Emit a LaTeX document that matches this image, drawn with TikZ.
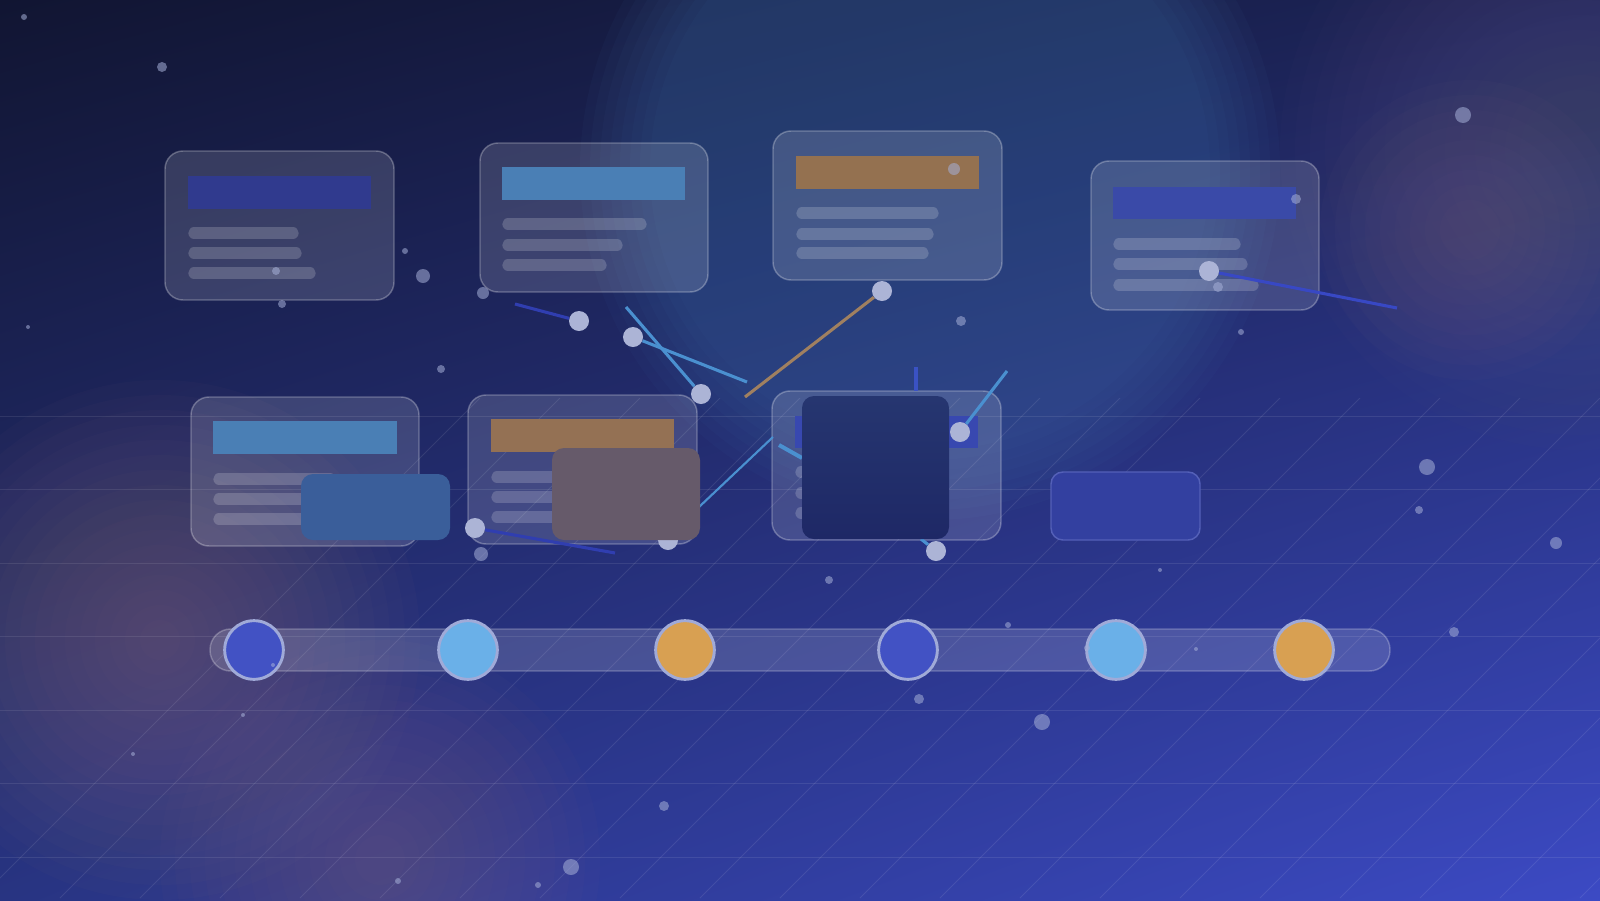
\documentclass[tikz,border=0pt]{standalone}
\usetikzlibrary{shadings}
\definecolor{bgtl}{RGB}{17,21,50}
\definecolor{bgtr}{RGB}{28,36,88}
\definecolor{bgbl}{RGB}{40,52,130}
\definecolor{bgbr}{RGB}{60,74,196}
\definecolor{coverdarktop}{RGB}{38,54,112}
\definecolor{coverdarkbot}{RGB}{30,40,102}

\begin{document}
\begin{tikzpicture}[x=0.75pt,y=0.75pt,yscale=-1,xscale=1,
  card/.style={draw={rgb, 255:red, 255; green, 255; blue, 255}, draw opacity=0.28, fill=white, fill opacity=0.14, line width=1.1pt, rounded corners=13.5pt},
  textline/.style={draw=white, draw opacity=0.18, line width=8.5pt, line cap=round},
  cover/.style={draw=none, rounded corners=9pt},
  wire/.style={line width=2.3pt},
  pin/.style={circle, fill={rgb, 255:red, 172; green, 180; blue, 214}, inner sep=0pt, minimum size=15pt},
  stop/.style={circle, draw={rgb, 255:red, 160; green, 170; blue, 216}, line width=2.2pt, inner sep=0pt, minimum size=44pt},
  speck/.style={fill={rgb, 255:red, 165; green, 175; blue, 215}, fill opacity=0.55},
  gridline/.style={draw=white, draw opacity=0.09, line width=0.75pt}
]
\useasboundingbox (0,0) rectangle (1600,900);
\begin{scope}
\clip (0,0) rectangle (1600,900);
%Shape: Background
\shade [upper left=bgtl, upper right=bgtr, lower left=bgbl, lower right=bgbr] (0,0) rectangle (1600,900);
%Shape: Glows
\foreach \r in {350,340,...,280} \fill [fill={rgb, 255:red, 72; green, 122; blue, 182}, opacity=0.048] (930,170) circle (\r);
\foreach \r in {300,285,...,60} \fill [fill={rgb, 255:red, 96; green, 90; blue, 130}, opacity=0.035] (1580,150) circle (\r);
\foreach \r in {150,135,...,30} \fill [fill={rgb, 255:red, 140; green, 110; blue, 140}, opacity=0.035] (1470,230) circle (\r);
\foreach \r in {260,245,...,20} \fill [fill={rgb, 255:red, 140; green, 108; blue, 125}, opacity=0.04] (160,640) circle (\r);
\foreach \r in {220,205,...,20} \fill [fill={rgb, 255:red, 140; green, 108; blue, 130}, opacity=0.035] (380,860) circle (\r);
%Straight Lines: floor grid
\begin{scope}
\clip (0,398) rectangle (1600,900);
\foreach \i in {-8,...,14} \draw [gridline] (1120+\i*80,398) -- (620+\i*80,898);
\foreach \y in {416,489.5,...,860} \draw [gridline] (0,\y) -- (1600,\y);
\end{scope}
\end{scope}

%Shape: Cards, top row
\draw [card] (165,151) rectangle (394,300);
\fill [fill={rgb, 255:red, 48; green, 58; blue, 142}] (188,176) rectangle (371,209);
\draw [textline] (194,233) -- (293,233) (194,253) -- (296,253) (194,273) -- (310,273);
\draw [card] (480,143) rectangle (708,292);
\fill [fill={rgb, 255:red, 74; green, 127; blue, 181}] (502,167) rectangle (685,200);
\draw [textline] (508,224) -- (641,224) (508,245) -- (617,245) (508,265) -- (601,265);
\draw [card] (773,131) rectangle (1002,280);
\fill [fill={rgb, 255:red, 148; green, 113; blue, 80}] (796,156) rectangle (979,189);
\draw [textline] (802,213) -- (933,213) (802,234) -- (928,234) (802,253) -- (923,253);
\draw [card] (1091,161) rectangle (1319,310);
\fill [fill={rgb, 255:red, 58; green, 74; blue, 168}] (1113,187) rectangle (1296,219);
\draw [textline] (1119,244) -- (1235,244) (1119,264) -- (1242,264) (1119,285) -- (1253,285);
%Shape: Cards, bottom row
\draw [card] (191,397) rectangle (419,546);
\fill [fill={rgb, 255:red, 74; green, 127; blue, 181}] (213,421) rectangle (397,454);
\draw [textline] (219,479) -- (330,479) (219,499) -- (330,499) (219,519) -- (330,519);
\draw [card] (468,395) rectangle (697,544);
\fill [fill={rgb, 255:red, 148; green, 113; blue, 84}] (491,419) rectangle (674,452);
\draw [textline] (497,477) -- (600,477) (497,497) -- (600,497) (497,517) -- (600,517);
\draw [card] (772,391) rectangle (1001,540);
\fill [fill={rgb, 255:red, 56; green, 72; blue, 176}] (795,416) rectangle (978,448);
\draw [textline] (801,472) -- (900,472) (801,493) -- (900,493) (801,513) -- (900,513);

%Shape: Pins
\node [pin] (p1) at (579,321) {};
\node [pin] (p2) at (701,394) {};
\node [pin] (p3) at (633,337) {};
\node [pin] (p4) at (882,291) {};
\node [pin] (p6) at (960,432) {};
\node [pin] (p9) at (475,528) {};
\node [pin] (p10) at (936,551) {};
\node [pin] (p11) at (1209,271) {};
\node [pin] (p12) at (668,540) {};
\coordinate (q1) at (515,304);
\coordinate (q2) at (626,307);
\coordinate (q3) at (747,382);
\coordinate (q4) at (745,397);
\coordinate (q5a) at (916,367);
\coordinate (q5b) at (916,391);
\coordinate (q6) at (1007,371);
\coordinate (q7a) at (773,437);
\coordinate (q7b) at (699,507);
\coordinate (q8a) at (779,445);
\coordinate (q8b) at (802,458);
\coordinate (q9) at (615,553);
\coordinate (q10) at (921,539);
\coordinate (q11) at (1397,308);
%Straight Lines
\draw [wire, color={rgb, 255:red, 48; green, 62; blue, 176}] (q1) -- (p1);
\draw [wire, color={rgb, 255:red, 74; green, 144; blue, 208}] (q2) -- (p2);
\draw [wire, color={rgb, 255:red, 74; green, 144; blue, 208}] (p3) -- (q3);
\draw [wire, color={rgb, 255:red, 160; green, 128; blue, 96}] (q4) -- (p4);
\draw [wire, color={rgb, 255:red, 58; green, 82; blue, 196}] (q5a) -- (q5b);
\draw [wire, color={rgb, 255:red, 74; green, 144; blue, 208}] (q6) -- (p6);
\draw [line width=1.6pt, color={rgb, 255:red, 74; green, 144; blue, 208}] (q7a) -- (q7b);
\draw [line width=3pt, color={rgb, 255:red, 74; green, 144; blue, 208}] (q8a) -- (q8b);
\draw [wire, color={rgb, 255:red, 48; green, 62; blue, 176}] (p9) -- (q9);
\draw [wire, color={rgb, 255:red, 74; green, 144; blue, 208}] (q10) -- (p10);
\draw [wire, color={rgb, 255:red, 56; green, 72; blue, 196}] (p11) -- (q11);

%Shape: Cover blocks
\fill [cover, fill={rgb, 255:red, 58; green, 94; blue, 154}] (301,474) rectangle (450,540);
\fill [cover, fill={rgb, 255:red, 102; green, 90; blue, 106}] (552,448) rectangle (700,540);
\shade [cover, top color=coverdarktop, bottom color=coverdarkbot] (802,396) rectangle (949,539);
\draw [cover, fill={rgb, 255:red, 51; green, 64; blue, 160}, draw={rgb, 255:red, 84; green, 96; blue, 184}, line width=1.1pt] (1051,472) rectangle (1200,540);

%Shape: Timeline
\draw [draw=white, draw opacity=0.25, fill=white, fill opacity=0.15, line width=1.1pt, rounded corners=15.5pt] (210,629) rectangle (1390,671);
\node [stop, fill={rgb, 255:red, 66; green, 82; blue, 196}] (t1) at (254,650) {};
\node [stop, fill={rgb, 255:red, 106; green, 176; blue, 232}] (t2) at (468,650) {};
\node [stop, fill={rgb, 255:red, 216; green, 160; blue, 82}] (t3) at (685,650) {};
\node [stop, fill={rgb, 255:red, 66; green, 82; blue, 196}] (t4) at (908,650) {};
\node [stop, fill={rgb, 255:red, 106; green, 176; blue, 232}] (t5) at (1116,650) {};
\node [stop, fill={rgb, 255:red, 216; green, 160; blue, 82}] (t6) at (1304,650) {};

%Shape: Specks
\foreach \x/\y/\r in {24/17/3, 162/67/5, 1463/115/8, 423/276/7, 405/251/3, 483/293/6, 282/304/4, 28/327/2, 441/369/4, 961/321/5, 1241/332/3, 1427/467/8, 1419/510/4, 1556/543/6, 481/554/7, 829/580/4, 1160/570/2, 1008/625/3, 1454/632/5, 1196/649/2, 919/699/5, 1042/722/8, 243/715/2, 133/754/2, 664/806/5, 571/867/8, 398/881/3, 538/885/3, 954/169/6, 1296/199/5, 1218/287/5, 276/271/4, 273/665/2, 1087/648/3}
  \fill [speck] (\x,\y) circle (\r);
\end{tikzpicture}
\end{document}
